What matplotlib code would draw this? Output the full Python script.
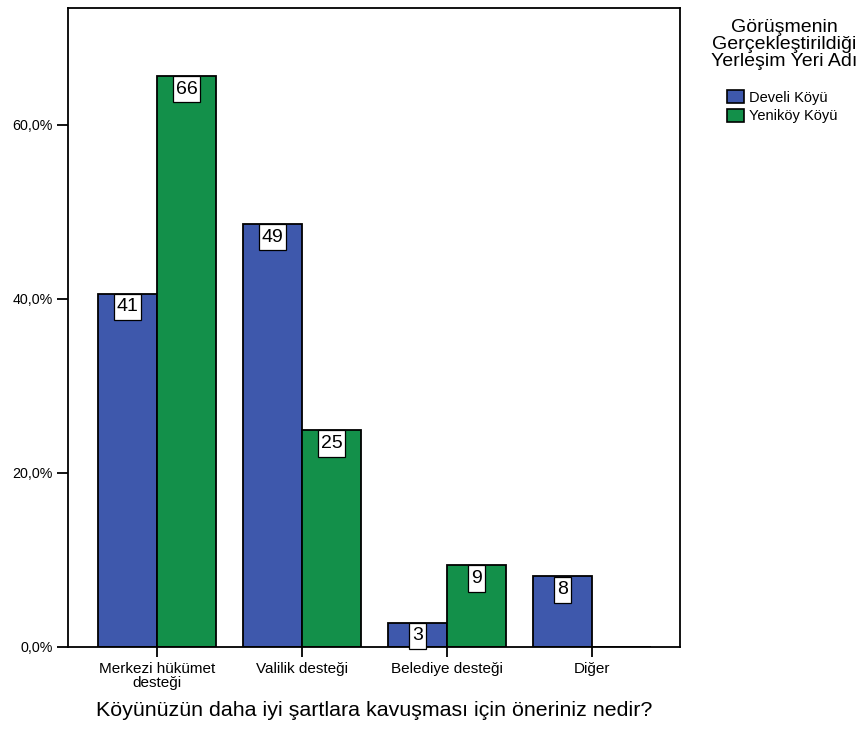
import matplotlib.pyplot as plt
from matplotlib.patches import Patch
from matplotlib.path import Path
from matplotlib.ticker import FuncFormatter

plt.rcParams['font.family'] = ['Liberation Sans', 'DejaVu Sans']

# veriler (grafikten okunan yüzdeler ve sayılar)
kategoriler = ['Merkezi hükümet\ndesteği', 'Valilik desteği', 'Belediye desteği', 'Diğer']
develi_yuzde = [40.6, 48.6, 2.8, 8.1]
yenikoy_yuzde = [65.6, 24.9, 9.4, 0.0]
develi_sayi = [41, 49, 3, 8]
yenikoy_sayi = [66, 25, 9, 0]
seri_adlari = ['Develi Köyü', 'Yeniköy Köyü']
renkler = ['#3E58AC', '#13904A']


# SPSS tarzı etiket kutusu: yatayda dar, dikeyde geniş boşluk
def kutu(x0, y0, width, height, mutation_size):
    px = 0.14 * mutation_size
    py = 0.24 * mutation_size
    x1, y1 = x0 - px, y0 - py
    x2, y2 = x0 + width + px, y0 + height + py
    return Path([(x1, y1), (x2, y1), (x2, y2), (x1, y2), (x1, y1)], closed=True)


fig = plt.figure(figsize=(8.64, 7.29), dpi=100)
ax = fig.add_axes([68 / 864, 82 / 729, 612 / 864, 639 / 729])

w = 0.407
x = range(len(kategoriler))
for seri, (yuzde, sayi, renk) in enumerate(zip([develi_yuzde, yenikoy_yuzde],
                                               [develi_sayi, yenikoy_sayi], renkler)):
    konum = [i - w / 2 + seri * w for i in x]
    ax.bar(konum, yuzde, width=w, color=renk, edgecolor='black', linewidth=1.3)
    for xi, yi, s in zip(konum, yuzde, sayi):
        if s == 0:
            continue
        ax.annotate(str(s), (xi, yi), xytext=(0, -3.4), textcoords='offset points',
                    ha='center', va='top', fontsize=14, annotation_clip=False,
                    bbox=dict(boxstyle=kutu, fc='white', ec='black', lw=0.9))

ax.set_xlim(-0.614, 3.607)
ax.set_ylim(0, 73.4)
ax.set_xticks(list(x))
ax.set_xticklabels(kategoriler, fontsize=11, linespacing=0.95)
ax.set_yticks([0, 20, 40, 60])
ax.yaxis.set_major_formatter(FuncFormatter(lambda v, p: f'{v:.1f}%'.replace('.', ',')))
ax.tick_params(axis='y', labelsize=10.3, length=8, width=1.3, pad=3)
ax.tick_params(axis='x', length=7, width=1.3, pad=4)
for sp in ax.spines.values():
    sp.set_linewidth(1.3)

# eksen başlığı (SPSS çıktısındaki konumuna göre)
fig.text(374 / 864, 1 - 716 / 729, 'Köyünüzün daha iyi şartlara kavuşması için öneriniz nedir?',
         ha='center', va='baseline', fontsize=15.4)

# lejant başlığı ve kutuları
fig.text(784 / 864, 1 - 19 / 729, 'Görüşmenin\nGerçekleştirildiği\nYerleşim Yeri Adı',
         ha='center', va='top', fontsize=14, linespacing=1.0, multialignment='center')
tutamaclar = [Patch(facecolor=r, edgecolor='black', linewidth=1.2, label=a)
              for r, a in zip(renkler, seri_adlari)]
fig.legend(handles=tutamaclar, loc='upper left', bbox_to_anchor=(727 / 864, 1 - 90 / 729),
           frameon=False, fontsize=10.5, handlelength=1.15, handleheight=1.0,
           handletextpad=0.35, labelspacing=0.3, borderpad=0, borderaxespad=0)

fig.savefig('out.png', dpi=100)
